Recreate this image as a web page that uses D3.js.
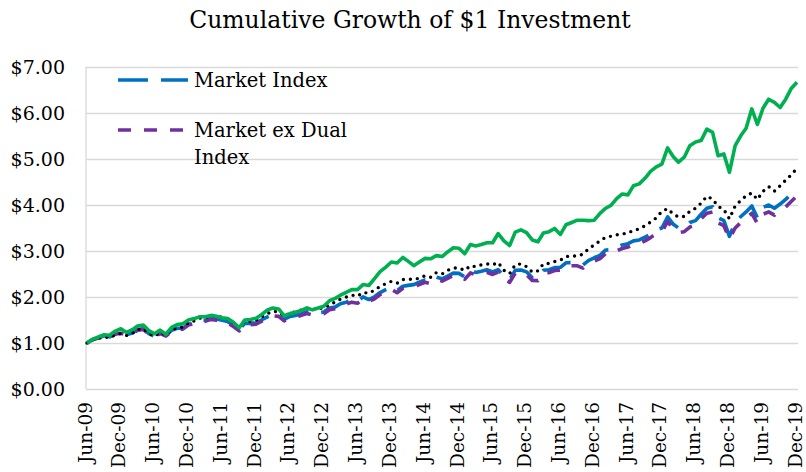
<!DOCTYPE html>
<html>
<head>
<meta charset="utf-8">
<script src="https://cdn.jsdelivr.net/npm/d3@7"></script>
<style>
  html, body { margin: 0; padding: 0; background: #fff; }
  svg { display: block; font-family: "DejaVu Serif", serif; }
  .grid line { stroke: #d9d9d9; stroke-width: 1.3; }
  .axis text { fill: #000; font-size: 19px; font-family: "DejaVu Serif", serif; }
  .xaxis text { font-size: 18.5px; }
  .title { font-size: 23.5px; fill: #000; }
  .legend text { font-size: 19.5px; fill: #000; }
</style>
</head>
<body>
<svg id="chart" width="806" height="472"></svg>
<script>
/* global d3 */

// Monthly values of $1 invested at Jun-09, through Dec-19
var startMonth = new Date(2009, 5, 1)
  , endMonth = new Date(2019, 11, 1)
  , tickLabels = ["Jun-09", "Dec-09", "Jun-10", "Dec-10", "Jun-11", "Dec-11",
      "Jun-12", "Dec-12", "Jun-13", "Dec-13", "Jun-14", "Dec-14", "Jun-15",
      "Dec-15", "Jun-16", "Dec-16", "Jun-17", "Dec-17", "Jun-18", "Dec-18",
      "Jun-19", "Dec-19"]
  , yTicks = [0, 1, 2, 3, 4, 5, 6, 7]
;

var marketIndex = [
    1.000, 1.076, 1.115, 1.156, 1.134, 1.202, 1.225, 1.181, 1.218, 1.291, 1.311, 1.206, 1.144,
    1.224, 1.169, 1.273, 1.321, 1.321, 1.410, 1.443, 1.492, 1.492, 1.537, 1.520, 1.495,
    1.465, 1.386, 1.289, 1.429, 1.426, 1.440, 1.505, 1.570, 1.622, 1.612, 1.515, 1.577,
    1.599, 1.636, 1.678, 1.648, 1.658, 1.673, 1.760, 1.785, 1.853, 1.888, 1.931, 1.906,
    2.003, 1.945, 2.005, 2.097, 2.160, 2.214, 2.137, 2.235, 2.253, 2.269, 2.321, 2.370,
    2.337, 2.430, 2.396, 2.454, 2.520, 2.513, 2.437, 2.576, 2.535, 2.560, 2.593, 2.544,
    2.597, 2.441, 2.380, 2.580, 2.588, 2.547, 2.420, 2.417, 2.581, 2.592, 2.638, 2.646,
    2.744, 2.747, 2.747, 2.698, 2.797, 2.853, 2.907, 3.023, 3.026, 3.080, 3.130, 3.160,
    3.220, 3.240, 3.300, 3.370, 3.460, 3.500, 3.740, 3.580, 3.500, 3.520, 3.620, 3.660,
    3.800, 3.930, 3.960, 3.720, 3.660, 3.320, 3.620, 3.750, 3.850, 3.980, 3.720, 3.950,
    4.000, 3.930, 4.020, 4.120, 4.250, 4.380
  ]
  , marketExDual = [
    1.000, 1.072, 1.108, 1.148, 1.125, 1.192, 1.213, 1.168, 1.205, 1.276, 1.296, 1.190, 1.128,
    1.208, 1.152, 1.255, 1.303, 1.302, 1.390, 1.423, 1.471, 1.470, 1.514, 1.497, 1.471,
    1.438, 1.358, 1.262, 1.400, 1.396, 1.410, 1.474, 1.538, 1.589, 1.578, 1.482, 1.543,
    1.564, 1.600, 1.641, 1.612, 1.621, 1.636, 1.721, 1.745, 1.812, 1.846, 1.888, 1.863,
    1.960, 1.903, 1.962, 2.053, 2.115, 2.168, 2.092, 2.188, 2.206, 2.221, 2.272, 2.320,
    2.287, 2.380, 2.345, 2.403, 2.468, 2.461, 2.385, 2.523, 2.482, 2.507, 2.538, 2.490,
    2.540, 2.380, 2.320, 2.520, 2.528, 2.487, 2.360, 2.355, 2.520, 2.530, 2.575, 2.583,
    2.676, 2.678, 2.678, 2.628, 2.726, 2.780, 2.833, 2.948, 2.950, 3.005, 3.055, 3.085,
    3.140, 3.160, 3.220, 3.290, 3.380, 3.420, 3.640, 3.480, 3.400, 3.420, 3.520, 3.560,
    3.700, 3.820, 3.850, 3.610, 3.550, 3.260, 3.500, 3.620, 3.720, 3.820, 3.600, 3.800,
    3.850, 3.780, 3.860, 3.960, 4.080, 4.200
  ]
  , dottedSeries = [
    1.000, 1.070, 1.100, 1.130, 1.115, 1.180, 1.205, 1.165, 1.210, 1.290, 1.315, 1.215, 1.150,
    1.230, 1.175, 1.280, 1.335, 1.345, 1.440, 1.480, 1.540, 1.550, 1.600, 1.585, 1.560,
    1.525, 1.440, 1.345, 1.480, 1.470, 1.495, 1.570, 1.640, 1.690, 1.680, 1.580, 1.650,
    1.675, 1.715, 1.760, 1.730, 1.745, 1.765, 1.830, 1.890, 1.955, 2.000, 2.040, 2.020,
    2.100, 2.080, 2.150, 2.230, 2.290, 2.340, 2.300, 2.380, 2.390, 2.380, 2.410, 2.460,
    2.430, 2.530, 2.500, 2.580, 2.630, 2.630, 2.580, 2.680, 2.660, 2.700, 2.720, 2.700,
    2.750, 2.580, 2.510, 2.700, 2.720, 2.660, 2.540, 2.570, 2.720, 2.730, 2.770, 2.800,
    2.880, 2.890, 2.890, 2.930, 3.050, 3.130, 3.220, 3.300, 3.320, 3.350, 3.370, 3.390,
    3.450, 3.480, 3.550, 3.630, 3.720, 3.860, 3.920, 3.800, 3.740, 3.750, 3.860, 3.930,
    4.040, 4.190, 4.130, 3.970, 3.900, 3.700, 3.980, 4.100, 4.200, 4.260, 4.120, 4.300,
    4.400, 4.300, 4.420, 4.540, 4.660, 4.800
  ]
  , greenSeries = [
    1.00, 1.08, 1.13, 1.18, 1.17, 1.26, 1.31, 1.23, 1.29, 1.37, 1.39, 1.27, 1.20,
    1.28, 1.19, 1.34, 1.40, 1.42, 1.50, 1.53, 1.57, 1.57, 1.60, 1.58, 1.55,
    1.53, 1.45, 1.33, 1.50, 1.51, 1.54, 1.62, 1.72, 1.76, 1.74, 1.59, 1.64,
    1.67, 1.71, 1.76, 1.72, 1.76, 1.80, 1.92, 1.97, 2.04, 2.10, 2.16, 2.16,
    2.27, 2.25, 2.40, 2.55, 2.65, 2.76, 2.74, 2.86, 2.78, 2.68, 2.76, 2.84,
    2.83, 2.90, 2.88, 2.98, 3.07, 3.06, 2.94, 3.14, 3.11, 3.14, 3.18, 3.18,
    3.38, 3.22, 3.12, 3.41, 3.46, 3.40, 3.24, 3.20, 3.39, 3.42, 3.49, 3.36,
    3.57, 3.62, 3.67, 3.67, 3.66, 3.67, 3.82, 3.93, 3.99, 4.14, 4.24, 4.22,
    4.42, 4.46, 4.58, 4.73, 4.83, 4.89, 5.24, 5.05, 4.93, 5.04, 5.29, 5.37,
    5.40, 5.65, 5.58, 5.07, 5.11, 4.71, 5.29, 5.51, 5.67, 6.09, 5.75, 6.11,
    6.30, 6.23, 6.12, 6.30, 6.54, 6.67
  ]
;

var seriesList = [
    { name: "Market Index", values: marketIndex, color: "#0070c0",
      width: 3.6, dash: "30,13", cap: "butt" }
  , { name: "Market ex Dual Index", values: marketExDual, color: "#7030a0",
      width: 3.6, dash: "13,13", cap: "butt" }
  , { name: "", values: dottedSeries, color: "#000000",
      width: 3.4, dash: "0,7", cap: "round" }
  , { name: "", values: greenSeries, color: "#00b050",
      width: 3.6, dash: null, cap: "butt" }
];

var svg = d3.select("#chart")
  , plotLeft = 86, plotRight = 798, plotTop = 67, plotBottom = 389
  , months = d3.timeMonth.range(startMonth, d3.timeMonth.offset(endMonth, 1))
  , x = d3.scaleTime().domain([startMonth, endMonth]).range([plotLeft + 1, plotRight - 1])
  , y = d3.scaleLinear().domain([0, 7]).range([plotBottom, plotTop])
  , parseLabel = d3.timeParse("%b-%y")
;

// Title
svg.append("text")
    .attr("class", "title")
    .attr("x", 410)
    .attr("y", 28)
    .attr("text-anchor", "middle")
    .text("Cumulative Growth of $1 Investment");

// Horizontal gridlines, drawn with an axis
svg.append("g")
    .attr("class", "grid")
    .attr("transform", "translate(" + plotLeft + ",0)")
    .call(d3.axisRight(y).tickValues(yTicks).tickSize(plotRight - plotLeft).tickFormat(""))
    .call(function(g) { g.select(".domain").remove(); });

// Left frame line
svg.append("line")
    .attr("x1", plotLeft).attr("x2", plotLeft)
    .attr("y1", plotTop).attr("y2", plotBottom)
    .attr("stroke", "#d9d9d9")
    .attr("stroke-width", 1.3);

// Y axis labels
svg.append("g")
    .attr("class", "axis")
    .attr("transform", "translate(" + (plotLeft - 21) + ",0)")
    .call(d3.axisLeft(y).tickValues(yTicks).tickSize(0).tickFormat(d3.format("$.2f")))
    .call(function(g) {
        g.select(".domain").remove();
        g.selectAll("text").attr("x", 0).attr("dy", "0.35em");
      });

// X axis labels, rotated
svg.append("g")
    .attr("class", "axis xaxis")
    .attr("transform", "translate(0," + (plotBottom + 13) + ")")
    .call(d3.axisBottom(x)
        .tickValues(tickLabels.map(function(d) { return parseLabel(d); }))
        .tickSize(0)
        .tickFormat(function(d, i) { return tickLabels[i]; }))
    .call(function(g) {
        g.select(".domain").remove();
        g.selectAll("text")
            .attr("transform", "rotate(-90)")
            .attr("text-anchor", "end")
            .attr("x", 0)
            .attr("y", 0)
            .attr("dy", "0.22em");
      });

// Series lines
var line = d3.line()
    .x(function(d, i) { return x(months[i]); })
    .y(function(d) { return y(d); });

svg.append("g")
    .selectAll("path")
    .data(seriesList)
  .enter().append("path")
    .attr("fill", "none")
    .attr("stroke", function(d) { return d.color; })
    .attr("stroke-width", function(d) { return d.width; })
    .attr("stroke-dasharray", function(d) { return d.dash; })
    .attr("stroke-linecap", function(d) { return d.cap; })
    .attr("stroke-linejoin", "round")
    .attr("d", function(d) { return line(d.values); });

// Legend, only the two named series
var legend = svg.append("g")
    .attr("class", "legend")
  .selectAll("g")
    .data(seriesList.slice(0, 2))
  .enter().append("g")
    .attr("transform", function(d, i) { return "translate(118," + (80 + i * 50) + ")"; });

legend.append("line")
    .attr("x1", 0).attr("x2", 70)
    .attr("stroke", function(d) { return d.color; })
    .attr("stroke-width", function(d) { return d.width; })
    .attr("stroke-dasharray", function(d) { return d.dash; });

legend.append("text")
    .each(function(d) {
        var words = d.name === "Market ex Dual Index"
              ? ["Market ex Dual", "Index"] : [d.name]
          , self = d3.select(this)
        ;
        words.forEach(function(w, k) {
            self.append("tspan")
                .attr("x", 76)
                .attr("dy", k ? 27 : "0.35em")
                .text(w);
          });
      });
</script>
</body>
</html>
